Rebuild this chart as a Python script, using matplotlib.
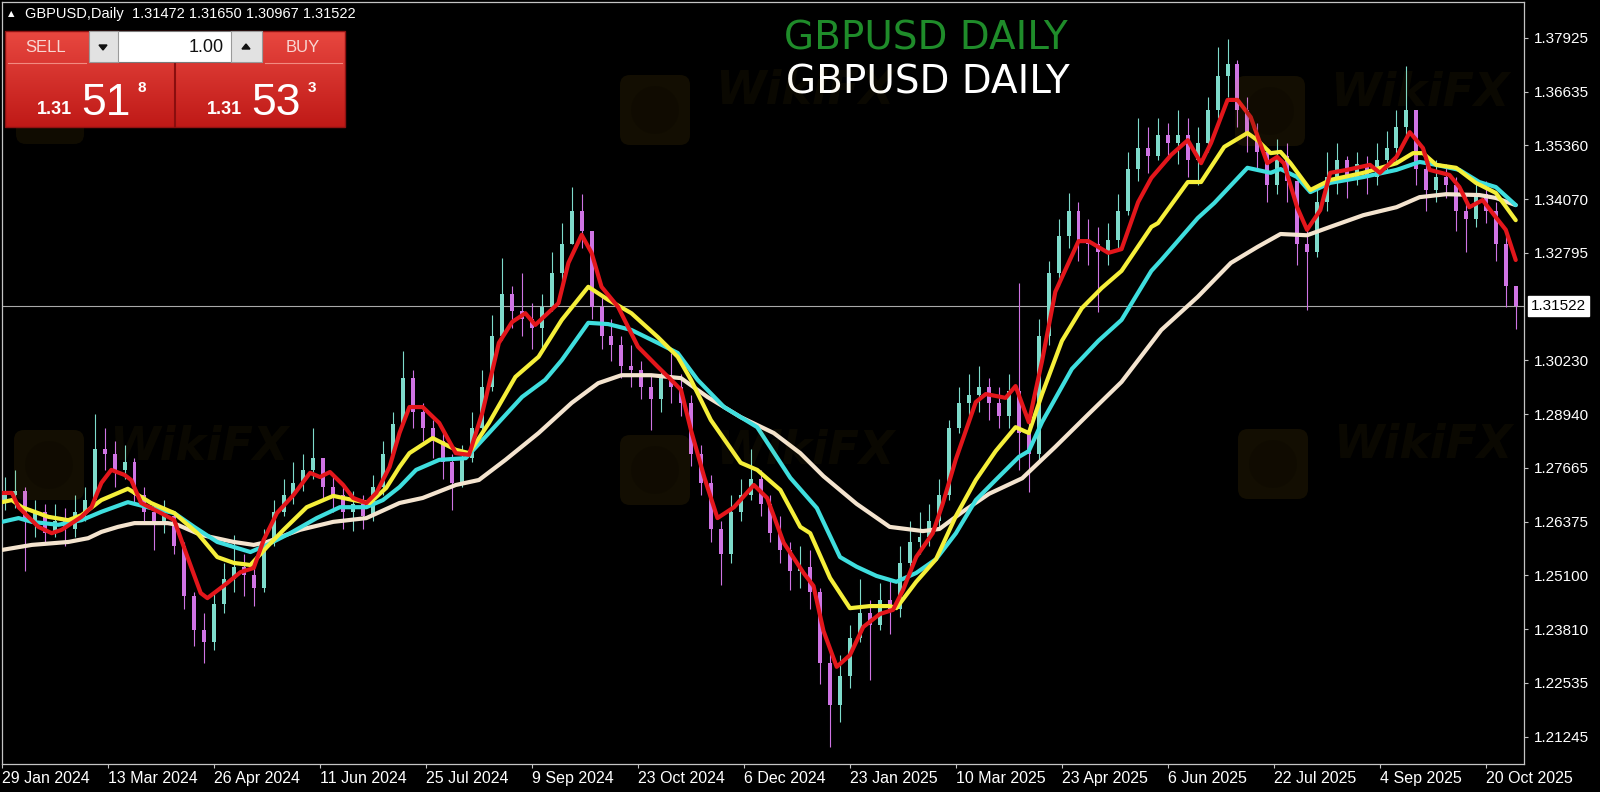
import numpy as np
import matplotlib.pyplot as plt
from matplotlib.patches import Rectangle, FancyBboxPatch, Polygon, Circle

plt.rcParams['font.family'] = ['Liberation Sans', 'DejaVu Sans']

# ---------------- data ----------------
symbol_info = 'GBPUSD,Daily  1.31472 1.31650 1.30967 1.31522'
last_price = 1.31522

# candles grouped by 3 daily bars (bar 0 = 29 Jan 2024), open = previous close
first_open = 1.2690
close = [
    1.2700, 1.2710, 1.2640, 1.2660, 1.2610, 1.2640, 1.2620, 1.2660, 1.2690, 1.2810,
    1.2800, 1.2760, 1.2780, 1.2700, 1.2660, 1.2630, 1.2650, 1.2580, 1.2460, 1.2380,
    1.2350, 1.2440, 1.2500, 1.2530, 1.2510, 1.2480, 1.2590, 1.2660, 1.2700, 1.2730,
    1.2760, 1.2790, 1.2720, 1.2700, 1.2660, 1.2680, 1.2650, 1.2720, 1.2800, 1.2870,
    1.2980, 1.2900, 1.2860, 1.2830, 1.2780, 1.2730, 1.2790, 1.2860, 1.2960, 1.3080,
    1.3180, 1.3140, 1.3120, 1.3100, 1.3150, 1.3230, 1.3300, 1.3380, 1.3330, 1.3150,
    1.3080, 1.3060, 1.3010, 1.3000, 1.2960, 1.2930, 1.2980, 1.2960, 1.2920, 1.2800,
    1.2730, 1.2620, 1.2560, 1.2660, 1.2700, 1.2740, 1.2680, 1.2610, 1.2570, 1.2520,
    1.2530, 1.2470, 1.2300, 1.2200, 1.2270, 1.2360, 1.2420, 1.2390, 1.2450, 1.2430,
    1.2540, 1.2590, 1.2600, 1.2640, 1.2700, 1.2860, 1.2920, 1.2940, 1.2960, 1.2920,
    1.2890, 1.2950, 1.2850, 1.2800, 1.3080, 1.3230, 1.3320, 1.3380, 1.3310, 1.3300,
    1.3280, 1.3310, 1.3380, 1.3480, 1.3530, 1.3510, 1.3560, 1.3540, 1.3560, 1.3500,
    1.3540, 1.3620, 1.3700, 1.3730, 1.3620, 1.3560, 1.3520, 1.3440, 1.3510, 1.3450,
    1.3300, 1.3280, 1.3400, 1.3460, 1.3500, 1.3460, 1.3490, 1.3460, 1.3500, 1.3530,
    1.3580, 1.3620, 1.3480, 1.3430, 1.3460, 1.3440, 1.3380, 1.3360, 1.3420, 1.3380,
    1.3300, 1.3200, 1.3152,
]
high = [
    1.2745, 1.2760, 1.2720, 1.2690, 1.2680, 1.2680, 1.2670, 1.2700, 1.2720, 1.2895,
    1.2860, 1.2830, 1.2820, 1.2790, 1.2720, 1.2680, 1.2690, 1.2660, 1.2590, 1.2470,
    1.2420, 1.2470, 1.2540, 1.2605, 1.2560, 1.2540, 1.2620, 1.2690, 1.2740, 1.2780,
    1.2800, 1.2860, 1.2790, 1.2750, 1.2720, 1.2710, 1.2700, 1.2750, 1.2830, 1.2900,
    1.3044, 1.3000, 1.2920, 1.2880, 1.2850, 1.2800, 1.2820, 1.2900, 1.3000, 1.3130,
    1.3266, 1.3200, 1.3230, 1.3160, 1.3180, 1.3280, 1.3350, 1.3436, 1.3420, 1.3330,
    1.3180, 1.3120, 1.3080, 1.3060, 1.3020, 1.2990, 1.3000, 1.3040, 1.2990, 1.2940,
    1.2820, 1.2750, 1.2640, 1.2700, 1.2740, 1.2811, 1.2760, 1.2700, 1.2650, 1.2590,
    1.2580, 1.2570, 1.2480, 1.2330, 1.2320, 1.2390, 1.2500, 1.2450, 1.2490, 1.2500,
    1.2580, 1.2640, 1.2660, 1.2680, 1.2740, 1.2880, 1.2960, 1.2990, 1.3010, 1.2980,
    1.2960, 1.2990, 1.3207, 1.2880, 1.3120, 1.3260, 1.3360, 1.3423, 1.3400, 1.3360,
    1.3340, 1.3350, 1.3420, 1.3520, 1.3600, 1.3580, 1.3600, 1.3590, 1.3620, 1.3600,
    1.3580, 1.3650, 1.3770, 1.3789, 1.3740, 1.3650, 1.3590, 1.3530, 1.3550, 1.3540,
    1.3450, 1.3340, 1.3440, 1.3520, 1.3540, 1.3510, 1.3520, 1.3510, 1.3540, 1.3570,
    1.3620, 1.3726, 1.3600, 1.3500, 1.3500, 1.3490, 1.3460, 1.3420, 1.3450, 1.3450,
    1.3400, 1.3320, 1.3165,
]
low = [
    1.2665, 1.2670, 1.2520, 1.2600, 1.2590, 1.2600, 1.2580, 1.2600, 1.2640, 1.2680,
    1.2760, 1.2720, 1.2740, 1.2680, 1.2640, 1.2570, 1.2610, 1.2560, 1.2430, 1.2340,
    1.2300, 1.2330, 1.2420, 1.2470, 1.2460, 1.2435, 1.2470, 1.2580, 1.2650, 1.2680,
    1.2710, 1.2740, 1.2690, 1.2660, 1.2620, 1.2615, 1.2620, 1.2640, 1.2700, 1.2790,
    1.2870, 1.2860, 1.2830, 1.2790, 1.2740, 1.2665, 1.2720, 1.2780, 1.2850, 1.2950,
    1.3070, 1.3100, 1.3080, 1.3050, 1.3047, 1.3140, 1.3200, 1.3300, 1.3290, 1.3120,
    1.3050, 1.3020, 1.2980, 1.2960, 1.2930, 1.2856, 1.2900, 1.2920, 1.2890, 1.2770,
    1.2700, 1.2590, 1.2487, 1.2540, 1.2640, 1.2690, 1.2650, 1.2590, 1.2540, 1.2474,
    1.2480, 1.2430, 1.2250, 1.2100, 1.2160, 1.2240, 1.2350, 1.2260, 1.2380, 1.2370,
    1.2410, 1.2520, 1.2560, 1.2580, 1.2620, 1.2690, 1.2850, 1.2890, 1.2900, 1.2880,
    1.2860, 1.2860, 1.2760, 1.2708, 1.2780, 1.3060, 1.3200, 1.3290, 1.3260, 1.3250,
    1.3139, 1.3250, 1.3290, 1.3370, 1.3450, 1.3470, 1.3500, 1.3500, 1.3490, 1.3460,
    1.3440, 1.3520, 1.3600, 1.3650, 1.3580, 1.3520, 1.3480, 1.3400, 1.3420, 1.3400,
    1.3250, 1.3142, 1.3270, 1.3380, 1.3420, 1.3410, 1.3440, 1.3420, 1.3440, 1.3470,
    1.3500, 1.3560, 1.3440, 1.3380, 1.3400, 1.3410, 1.3330, 1.3280, 1.3340, 1.3350,
    1.3260, 1.3150, 1.3097,
]

# moving averages: (bar, price)
ma_red = [
    (0, 1.2706), (3, 1.2706), (5, 1.2672), (11, 1.2625), (15, 1.2610), (18, 1.2618),
    (24, 1.2649), (27, 1.2672), (30, 1.2730), (33, 1.2761), (37, 1.2749), (39, 1.2737),
    (42, 1.2682), (48, 1.2658), (52, 1.2641), (56, 1.2553), (60, 1.2467), (62, 1.2455),
    (68, 1.2491), (72, 1.2517), (76, 1.2527), (79, 1.2594), (83, 1.2658), (88, 1.2701),
    (93, 1.2754), (96, 1.2744), (99, 1.2756), (103, 1.2725), (106, 1.2694), (110, 1.2682),
    (113, 1.2706), (117, 1.2768), (120, 1.2849), (123, 1.2911), (127, 1.2911), (132, 1.2873),
    (137, 1.2801), (141, 1.2797), (145, 1.2897), (150, 1.3064), (154, 1.3114), (158, 1.3135),
    (161, 1.3107), (168, 1.3159), (171, 1.3255), (175, 1.3322), (178, 1.3279), (181, 1.3198),
    (186, 1.3150), (192, 1.3055), (198, 1.3007), (202, 1.2976), (205, 1.2952), (208, 1.2856),
    (212, 1.2744), (216, 1.2646), (221, 1.2672), (227, 1.2725), (231, 1.2694), (236, 1.2587),
    (242, 1.2515), (245, 1.2484), (248, 1.2377), (252, 1.2291), (256, 1.2319), (260, 1.2386),
    (265, 1.2417), (269, 1.2427), (272, 1.2474), (276, 1.2553), (281, 1.2610), (284, 1.2680),
    (288, 1.2787), (294, 1.2923), (297, 1.2942), (303, 1.2933), (306, 1.2961), (310, 1.2875),
    (314, 1.3021), (318, 1.3186), (325, 1.3307), (328, 1.3307), (334, 1.3279), (338, 1.3288),
    (343, 1.3400), (347, 1.3458), (353, 1.3513), (358, 1.3548), (362, 1.3493), (365, 1.3541),
    (370, 1.3644), (373, 1.3644), (377, 1.3603), (382, 1.3493), (385, 1.3508), (387, 1.3493),
    (391, 1.3388), (394, 1.3334), (398, 1.3381), (401, 1.3470), (406, 1.3477), (413, 1.3489),
    (416, 1.3470), (421, 1.3508), (425, 1.3567), (429, 1.3529), (431, 1.3477), (437, 1.3465),
    (440, 1.3436), (443, 1.3388), (447, 1.3405), (451, 1.3364), (454, 1.3334), (457, 1.3262),
]
ma_yellow = [
    (0, 1.2684), (3, 1.2689), (6, 1.2672), (14, 1.2649), (20, 1.2641), (24, 1.2653),
    (30, 1.2689), (38, 1.2716), (45, 1.2682), (52, 1.2658), (59, 1.2610), (65, 1.2553),
    (70, 1.2539), (75, 1.2534), (80, 1.2577), (85, 1.2618), (92, 1.2672), (100, 1.2699),
    (106, 1.2689), (111, 1.2682), (116, 1.2718), (120, 1.2768), (123, 1.2801), (130, 1.2837),
    (137, 1.2809), (141, 1.2801), (147, 1.2873), (155, 1.2983), (162, 1.3031), (169, 1.3119),
    (177, 1.3198), (183, 1.3167), (190, 1.3135), (198, 1.3078), (204, 1.3031), (208, 1.2976),
    (214, 1.2880), (223, 1.2778), (228, 1.2761), (235, 1.2713), (241, 1.2625), (244, 1.2610),
    (250, 1.2503), (256, 1.2431), (262, 1.2436), (268, 1.2436), (270, 1.2431), (276, 1.2494),
    (282, 1.2548), (288, 1.2651), (294, 1.2737), (300, 1.2806), (306, 1.2863), (310, 1.2849),
    (314, 1.2942), (320, 1.3069), (326, 1.3147), (332, 1.3195), (338, 1.3236), (347, 1.3341),
    (349, 1.3350), (358, 1.3448), (362, 1.3448), (369, 1.3532), (376, 1.3565), (379, 1.3548),
    (383, 1.3517), (386, 1.3520), (389, 1.3493), (395, 1.3429), (401, 1.3453), (411, 1.3470),
    (421, 1.3493), (426, 1.3517), (429, 1.3517), (433, 1.3489), (439, 1.3482), (445, 1.3446),
    (451, 1.3422), (457, 1.3357),
]
ma_cyan = [
    (0, 1.2637), (5, 1.2646), (9, 1.2637), (17, 1.2630), (24, 1.2641), (30, 1.2661),
    (38, 1.2684), (45, 1.2670), (52, 1.2658), (58, 1.2625), (65, 1.2589), (75, 1.2565),
    (80, 1.2582), (87, 1.2610), (95, 1.2646), (102, 1.2672), (110, 1.2672), (115, 1.2689),
    (120, 1.2720), (125, 1.2761), (132, 1.2785), (140, 1.2789), (147, 1.2849), (157, 1.2935),
    (164, 1.2976), (169, 1.3023), (177, 1.3112), (183, 1.3109), (190, 1.3095), (198, 1.3064),
    (204, 1.3040), (210, 1.2976), (218, 1.2911), (228, 1.2863), (238, 1.2742), (246, 1.2670),
    (253, 1.2553), (258, 1.2530), (264, 1.2508), (270, 1.2494), (276, 1.2515), (282, 1.2548),
    (288, 1.2610), (294, 1.2689), (300, 1.2737), (307, 1.2792), (310, 1.2806), (314, 1.2875),
    (323, 1.3002), (331, 1.3069), (338, 1.3119), (347, 1.3236), (350, 1.3262), (361, 1.3362),
    (366, 1.3398), (376, 1.3482), (383, 1.3470), (386, 1.3479), (391, 1.3460), (395, 1.3424),
    (401, 1.3446), (411, 1.3460), (421, 1.3477), (428, 1.3496), (433, 1.3489), (440, 1.3477),
    (446, 1.3448), (451, 1.3436), (457, 1.3393),
]
ma_beige = [
    (0, 1.2570), (9, 1.2582), (20, 1.2589), (26, 1.2598), (30, 1.2613), (35, 1.2625),
    (40, 1.2634), (50, 1.2634), (53, 1.2630), (60, 1.2606), (70, 1.2589), (76, 1.2582),
    (80, 1.2589), (90, 1.2618), (100, 1.2637), (110, 1.2646), (120, 1.2682), (127, 1.2694),
    (137, 1.2725), (144, 1.2737), (152, 1.2785), (162, 1.2849), (172, 1.2921), (180, 1.2968),
    (187, 1.2987), (196, 1.2987), (205, 1.2980), (213, 1.2935), (223, 1.2887), (233, 1.2849),
    (241, 1.2801), (248, 1.2746), (258, 1.2680), (268, 1.2625), (278, 1.2615), (283, 1.2620),
    (290, 1.2661), (298, 1.2704), (308, 1.2741), (318, 1.2816), (328, 1.2894), (338, 1.2971),
    (350, 1.3095), (361, 1.3174), (371, 1.3255), (379, 1.3293), (386, 1.3324), (394, 1.3321),
    (401, 1.3341), (411, 1.3369), (421, 1.3388), (428, 1.3412), (436, 1.3419), (446, 1.3417),
    (451, 1.3410), (457, 1.3393),
]

date_ticks = list(range(0, 449, 32))
date_labels = ['29 Jan 2024', '13 Mar 2024', '26 Apr 2024', '11 Jun 2024', '25 Jul 2024',
               '9 Sep 2024', '23 Oct 2024', '6 Dec 2024', '23 Jan 2025', '10 Mar 2025',
               '23 Apr 2025', '6 Jun 2025', '22 Jul 2025', '4 Sep 2025', '20 Oct 2025']
price_ticks = [1.37925, 1.36635, 1.35360, 1.34070, 1.32795, 1.30230, 1.28940,
               1.27665, 1.26375, 1.25100, 1.23810, 1.22535, 1.21245]

# ---------------- chart ----------------
fig = plt.figure(figsize=(16, 7.92), dpi=100, facecolor='black')
ax = fig.add_axes([2 / 1600, 28 / 792, 1522 / 1600, 762 / 792])
ax.set_facecolor('black')

c = np.array(close)
o = np.array([first_open] + close[:-1])
h = np.maximum(np.array(high), np.maximum(o, c))
l = np.minimum(np.array(low), np.minimum(o, c))
xs = np.arange(len(c)) * 3 + 1
up = c >= o
cols = np.where(up, '#7edbcb', '#cf74e4')

ax.vlines(xs, l, h, colors=cols, lw=0.8, zorder=2)
ax.bar(xs, c - o, bottom=o, width=1.2, color=cols, linewidth=0, zorder=2)

for pts, col in [(ma_beige, '#f4e4cf'), (ma_cyan, '#3fdede'),
                 (ma_yellow, '#f5ef3a'), (ma_red, '#e3161b')]:
    b, v = zip(*pts)
    ax.plot(b, v, color=col, lw=3.0, solid_joinstyle='round',
            solid_capstyle='round', zorder=3)

ax.axhline(last_price, color='#a9a9a9', lw=0.8, zorder=1)

ax.set_xlim(0, 459.5)
ax.set_ylim(1.20591, 1.38777)

for s in ax.spines.values():
    s.set_color('#c4c4c4')
    s.set_linewidth(0.9)

ax.yaxis.tick_right()
ax.set_yticks(price_ticks, [f'{p:.5f}' for p in price_ticks])
ax.tick_params(axis='y', direction='out', length=3, width=0.8, color='#c4c4c4',
               labelcolor='white', labelsize=11, pad=4)
ax.set_xticks(date_ticks, date_labels)
ax.tick_params(axis='x', direction='out', length=3, width=0.8, color='#c4c4c4',
               labelcolor='white', labelsize=11.5, pad=2)
for lb in ax.get_xticklabels():
    lb.set_ha('left')

ax.annotate(f'{last_price:.5f}', xy=(1, last_price), xycoords=('axes fraction', 'data'),
            xytext=(5, 0), textcoords='offset points', va='center', ha='left',
            fontsize=11, color='black',
            bbox=dict(boxstyle='square,pad=0.2', facecolor='white', edgecolor='white'))

# ---------------- overlay (pixel coordinates) ----------------
ov = fig.add_axes([0, 0, 1, 1], zorder=5)
ov.axis('off')

# faint WikiFX watermarks (drawn first, underneath the trading panel)
ov.add_patch(FancyBboxPatch((16, 76), 68, 68, boxstyle='round,pad=0,rounding_size=10',
                            fc='#d4a017', ec='none', alpha=0.08, zorder=0.5))
for cx, cy in [(655, 110), (1270, 111), (49, 465), (655, 470), (1273, 464)]:
    ov.add_patch(FancyBboxPatch((cx - 35, cy - 35), 70, 70,
                                boxstyle='round,pad=0,rounding_size=10',
                                fc='#d4a017', ec='none', alpha=0.09, zorder=6))
    ov.add_patch(Circle((cx, cy), 24, fc='black', ec='none', alpha=0.15, zorder=6))
    ov.text(cx + 150, cy - 18, 'WikiFX', ha='center', va='center', fontsize=33,
            fontweight='bold', style='italic', color='#d4a017', alpha=0.05,
            family='DejaVu Sans', zorder=6)

# one-click trading panel
g = np.linspace(0, 1, 64)[:, None, None]
top_c = np.array([0.91, 0.28, 0.25])
bot_c = np.array([0.75, 0.10, 0.09])
ov.imshow(top_c + (bot_c - top_c) * g, extent=(5, 345, 127, 31), aspect='auto',
          interpolation='bilinear', zorder=1)
ov.add_patch(Rectangle((5, 31), 340, 96, fill=False, ec='#8e1212', lw=1, zorder=2))
ov.plot([8, 86], [63, 63], color='#f28a80', lw=0.8, zorder=2)
ov.plot([265, 342], [63, 63], color='#f28a80', lw=0.8, zorder=2)
ov.plot([175, 175], [64, 127], color='#8a0e0e', lw=1.5, zorder=2)

ov.add_patch(Rectangle((89, 31), 173, 31, fc='white', ec='#7a7a7a', lw=0.8, zorder=3))
ov.add_patch(Rectangle((89, 31), 29, 31, fc='#e2e2e2', ec='#9a9a9a', lw=0.8, zorder=3))
ov.add_patch(Rectangle((231, 31), 31, 31, fc='#e2e2e2', ec='#9a9a9a', lw=0.8, zorder=3))
ov.add_patch(Polygon([(99, 45), (107, 45), (103, 50)], color='#111111', zorder=4))
ov.add_patch(Polygon([(242, 49), (250, 49), (246, 44)], color='#111111', zorder=4))
ov.text(224, 47, '1.00', ha='right', va='center', fontsize=13, color='#111111', zorder=4)
ov.text(46, 47, 'SELL', ha='center', va='center', fontsize=12, color='#f8d6d2', zorder=4)
ov.text(303, 47, 'BUY', ha='center', va='center', fontsize=12, color='#f8d6d2', zorder=4)

for x0, big, small in [(72, '51', '8'), (242, '53', '3')]:
    ov.text(x0, 114, '1.31', ha='right', va='baseline', fontsize=13,
            fontweight='bold', color='white', zorder=4)
    ov.text(x0 + 9, 115, big, ha='left', va='baseline', fontsize=32,
            color='white', zorder=4)
    ov.text(x0 + 66, 92, small, ha='left', va='baseline', fontsize=11,
            fontweight='bold', color='white', zorder=4)

ov.text(8, 14, '\u25b2', ha='left', va='center', fontsize=6, color='white',
        family='DejaVu Sans')
ov.text(25, 14, symbol_info, ha='left', va='center', fontsize=10.5, color='white')

ov.text(926, 38, 'GBPUSD DAILY', ha='center', va='center', fontsize=28,
        color='#1f8c2a', family='DejaVu Sans')
ov.text(928, 82, 'GBPUSD DAILY', ha='center', va='center', fontsize=28,
        color='white', family='DejaVu Sans')

ov.set_xlim(0, 1600)
ov.set_ylim(792, 0)

fig.savefig('out.png', dpi=100, facecolor='black')
